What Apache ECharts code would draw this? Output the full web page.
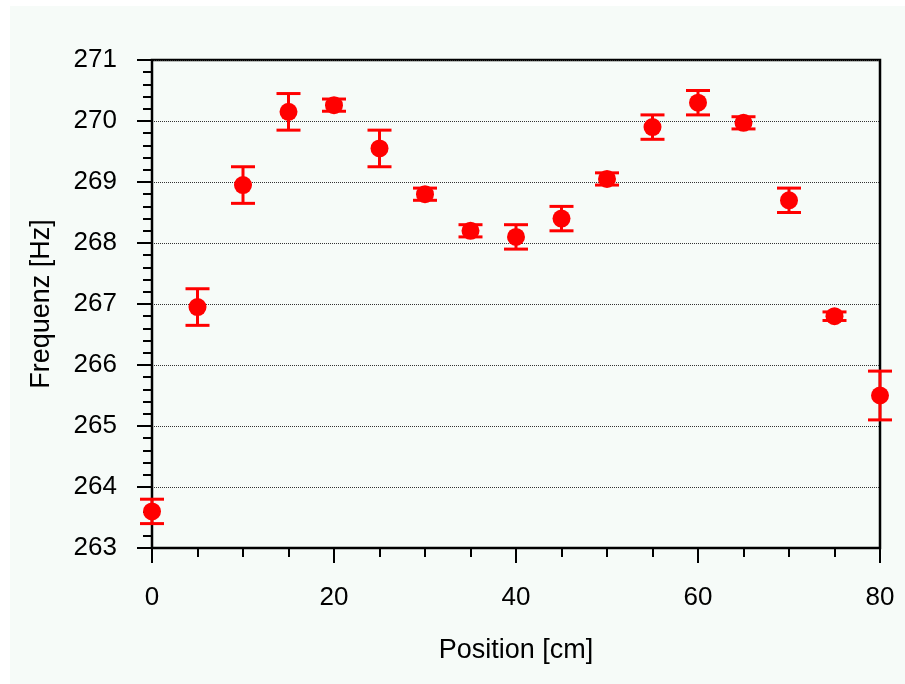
<!DOCTYPE html>
<html>
<head>
<meta charset="utf-8">
<script src="https://cdn.jsdelivr.net/npm/echarts@6/dist/echarts.min.js"></script>
<style>
html,body{margin:0;padding:0;background:#ffffff;}
#chart{width:905px;height:684px;}
</style>
</head>
<body>
<div id="chart"></div>
<script>
const positions = [0, 5, 10, 15, 20, 25, 30, 35, 40, 45, 50, 55, 60, 65, 70, 75, 80];
const frequencies = [263.6, 266.95, 268.95, 270.15, 270.26, 269.55, 268.8, 268.2, 268.1, 268.4, 269.05, 269.9, 270.3, 269.97, 268.7, 266.8, 265.5];
const errors = [0.2, 0.3, 0.3, 0.3, 0.1, 0.3, 0.1, 0.1, 0.2, 0.2, 0.1, 0.2, 0.2, 0.1, 0.2, 0.07, 0.4];
const xTicks = [0, 20, 40, 60, 80];
const yTicks = [263, 264, 265, 266, 267, 268, 269, 270, 271];

const pointData = positions.map((p, i) => [p, frequencies[i]]);
const errData = positions.map((p, i) => [p, frequencies[i] - errors[i], frequencies[i] + errors[i]]);

const chart = echarts.init(document.getElementById('chart'));
const font = 'Liberation Sans, Arial, Helvetica, sans-serif';
chart.setOption({
  backgroundColor: '#ffffff',
  animation: false,
  graphic: [{
    type: 'rect', z: -10, silent: true,
    shape: {x: 10, y: 6, width: 895, height: 678},
    style: {fill: '#f6fbf8'}
  }],
  grid: {left: 152, right: 25, top: 60, bottom: 136, show: true, borderColor: '#000', borderWidth: 2.5, backgroundColor: 'transparent'},
  xAxis: {
    type: 'value', min: xTicks[0], max: xTicks[xTicks.length - 1], interval: 20,
    name: 'Position [cm]', nameLocation: 'middle', nameGap: 89,
    nameTextStyle: {fontFamily: font, fontSize: 27, color: '#000'},
    axisLine: {onZero: false, lineStyle: {color: '#000', width: 2}},
    axisTick: {show: true, length: 15, lineStyle: {color: '#000', width: 2}},
    minorTick: {show: true, splitNumber: 4, length: 9, lineStyle: {color: '#000', width: 2}},
    axisLabel: {fontFamily: font, fontSize: 26, color: '#000', margin: 37},
    splitLine: {show: false}
  },
  yAxis: {
    type: 'value', min: yTicks[0], max: yTicks[yTicks.length - 1], interval: 1,
    name: 'Frequenz [Hz]', nameLocation: 'middle', nameGap: 97,
    nameTextStyle: {fontFamily: font, fontSize: 27, color: '#000'},
    axisLine: {onZero: false, lineStyle: {color: '#000', width: 2}},
    axisTick: {show: true, length: 15, lineStyle: {color: '#000', width: 2}},
    minorTick: {show: true, splitNumber: 5, length: 9, lineStyle: {color: '#000', width: 2}},
    axisLabel: {fontFamily: font, fontSize: 26, color: '#000', margin: 35},
    splitLine: {show: true, lineStyle: {color: '#333', width: 1, type: [1, 1]}}
  },
  series: [
    {
      type: 'custom',
      data: errData,
      z: 3,
      renderItem: function (params, api) {
        const x = api.value(0);
        const lo = api.coord([x, api.value(1)]);
        const hi = api.coord([x, api.value(2)]);
        const hw = 12;
        const st = {stroke: '#ff0000', lineWidth: 3};
        return {
          type: 'group',
          children: [
            {type: 'line', shape: {x1: lo[0], y1: lo[1], x2: hi[0], y2: hi[1]}, style: st},
            {type: 'line', shape: {x1: lo[0] - hw, y1: lo[1], x2: lo[0] + hw, y2: lo[1]}, style: st},
            {type: 'line', shape: {x1: hi[0] - hw, y1: hi[1], x2: hi[0] + hw, y2: hi[1]}, style: st}
          ]
        };
      }
    },
    {
      type: 'scatter',
      data: pointData,
      symbol: 'circle',
      symbolSize: 18,
      z: 4,
      itemStyle: {color: '#ff0000', opacity: 1}
    }
  ]
});
</script>
</body>
</html>
